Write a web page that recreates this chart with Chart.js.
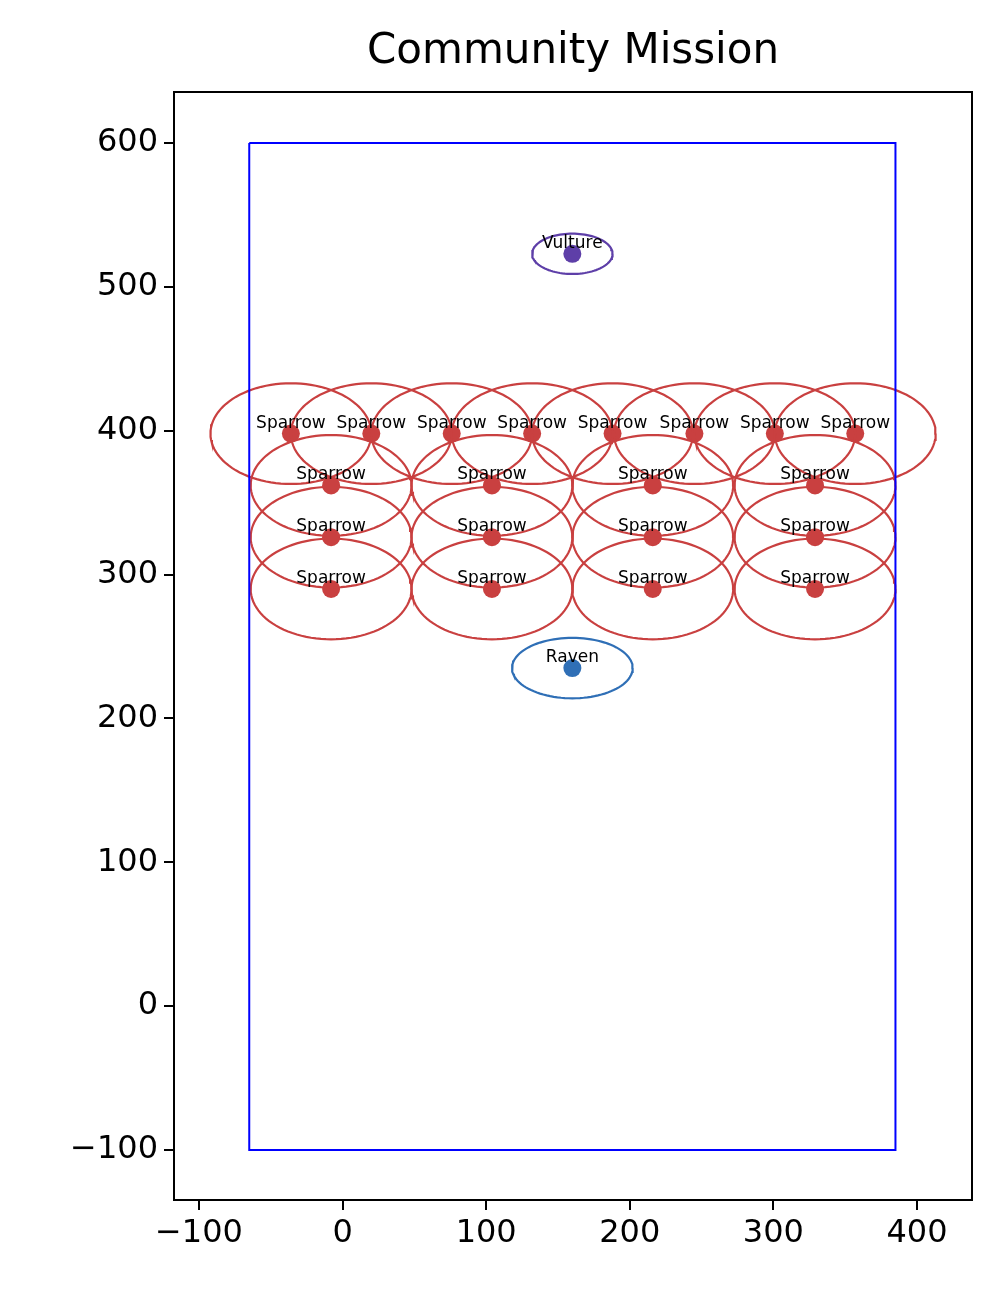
<!DOCTYPE html>
<html><head><meta charset="utf-8">
<script src="https://cdn.jsdelivr.net/npm/chart.js@4"></script>
<style>body{margin:0;background:#fff}</style></head>
<body><canvas id="c" width="1001" height="1302"></canvas>
<script>
const agentNames = ["Vulture","Raven",
 "Sparrow","Sparrow","Sparrow","Sparrow","Sparrow","Sparrow","Sparrow","Sparrow",
 "Sparrow","Sparrow","Sparrow","Sparrow",
 "Sparrow","Sparrow","Sparrow","Sparrow",
 "Sparrow","Sparrow","Sparrow","Sparrow"];
const agentX = [160,160,-36,20,76,132,188,245,301,357,-8,104,216,329,-8,104,216,329,-8,104,216,329];
const agentY = [523,235,398,398,398,398,398,398,398,398,362,362,362,362,326,326,326,326,290,290,290,290];
const radiusX = [28,42,56,56,56,56,56,56,56,56,56,56,56,56,56,56,56,56,56,56,56,56];
const radiusY = [14,21,35,35,35,35,35,35,35,35,35,35,35,35,35,35,35,35,35,35,35,35];
const agentColor = ["#5e3fa8","#2f6fb6"].concat(Array(20).fill("#c94040"));
const boundX = [-65,385,385,-65,-65];
const boundY = [600,600,-100,-100,600];
const xTicks = [-100,0,100,200,300,400];
const yTicks = [-100,0,100,200,300,400,500,600];

const datasets = [];
datasets.push({data: boundX.map((x,i)=>({x, y: boundY[i]})), showLine:true, borderColor:"#0000ff", borderWidth:2, pointRadius:0, fill:false});
agentX.forEach((cx,i)=>{
  const pts=[];
  for(let k=0;k<=100;k++){const t=k/100*2*Math.PI; pts.push({x:cx+radiusX[i]*Math.cos(t), y:agentY[i]+radiusY[i]*Math.sin(t)});}
  datasets.push({data:pts, showLine:true, borderColor:agentColor[i], borderWidth:2.2, pointRadius:0, fill:false, tension:0});
});
datasets.push({data: agentX.map((x,i)=>({x,y:agentY[i]})), showLine:false, pointRadius:9, pointBackgroundColor:agentColor, pointBorderWidth:0});

const extras = {
  id:"extras",
  afterDraw(ch){
    const c=ch.ctx, a=ch.chartArea, xs=ch.scales.x, ys=ch.scales.y;
    c.save();
    c.fillStyle="#000"; c.font="17px 'DejaVu Sans'"; c.textAlign="center"; c.textBaseline="bottom";
    agentX.forEach((x,i)=>c.fillText(agentNames[i], xs.getPixelForValue(x), ys.getPixelForValue(agentY[i])-2));
    c.strokeStyle="#000"; c.lineWidth=2; c.strokeRect(a.left,a.top,a.right-a.left,a.bottom-a.top);
    c.font="42px 'DejaVu Sans'"; c.textBaseline="middle";
    c.fillText("Community Mission",(a.left+a.right)/2,52);
    c.restore();
  }
};
const tickCfg = {color:"#000", font:{family:"DejaVu Sans", size:32}};
new Chart(document.getElementById("c"),{
  type:"scatter",
  data:{datasets},
  options:{
    responsive:false, animation:false, devicePixelRatio:1,
    layout:{padding:{top:92,right:29,left:0,bottom:0}},
    plugins:{legend:{display:false},tooltip:{enabled:false}},
    scales:{
      x:{min:-117.4,max:438.3, afterBuildTicks(s){s.ticks=xTicks.map(v=>({value:v}));},
        afterFit(s){s.height=102;},
        ticks:{...tickCfg, callback:v=>String(v).replace("-","\u2212"), maxRotation:0, padding:4},
        grid:{drawOnChartArea:false, tickLength:10, color:"#000", lineWidth:2}, border:{color:"#000",width:2}},
      y:{min:-134.8,max:635.5, afterBuildTicks(s){s.ticks=yTicks.map(v=>({value:v}));},
        afterFit(s){s.width=174;},
        ticks:{...tickCfg, callback:v=>String(v).replace("-","\u2212"), padding:6},
        grid:{drawOnChartArea:false, tickLength:10, color:"#000", lineWidth:2}, border:{color:"#000",width:2}}
    }
  },
  plugins:[extras]
});
</script></body></html>
